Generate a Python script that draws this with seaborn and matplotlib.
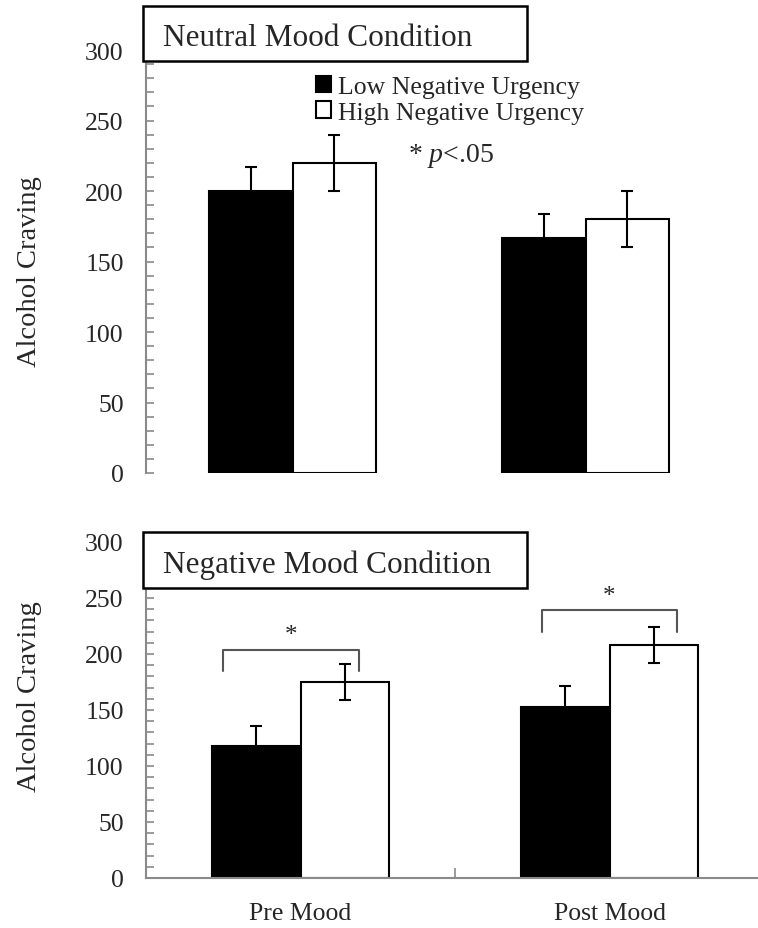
import matplotlib
matplotlib.use("Agg")
import matplotlib.pyplot as plt
from matplotlib.patches import Rectangle
from matplotlib.ticker import MultipleLocator
import seaborn as sns
import pandas as pd

# === 1. Data ===
times = ["Pre Mood", "Post Mood"]
groups = ["Low Negative Urgency", "High Negative Urgency"]

neutral_low = [200, 167]
neutral_high = [220, 180]
neutral_low_se = [17, 17]
neutral_high_se = [20, 20]

negative_low = [118, 153]
negative_high = [175, 208]
negative_low_se = [18, 18]
negative_high_se = [16, 16]

# brackets over the significant comparisons (negative mood only)
bracket_x = [(-0.25, 0.19), (0.78, 1.22)]
bracket_y = [204, 239]
bracket_drop = 19


def make_df(low, high):
    return pd.DataFrame({
        "Time": times * 2,
        "Group": [groups[0]] * 2 + [groups[1]] * 2,
        "Craving": list(low) + list(high),
    })


# === 2. Style ===
sns.set_style("ticks")
plt.rcParams["font.family"] = ["Liberation Serif", "DejaVu Serif"]
plt.rcParams["mathtext.fontset"] = "custom"
plt.rcParams["mathtext.rm"] = "Liberation Serif"
plt.rcParams["mathtext.it"] = "Liberation Serif:italic"

W, H = 758, 929
fig = plt.figure(figsize=(W / 100, H / 100), dpi=100)
ax_top = fig.add_axes([146 / W, (H - 474) / H, 586 / W, 423 / H])
ax_bot = fig.add_axes([146 / W, (H - 879) / H, 612 / W, 336 / H])

palette = {groups[0]: "black", groups[1]: "white"}
gray = "#8a8a8a"


def draw_panel(ax, low, high, low_se, high_se):
    df = make_df(low, high)
    sns.barplot(data=df, x="Time", y="Craving", hue="Group", order=times,
                hue_order=groups, palette=palette, width=0.57, edgecolor="black",
                linewidth=1.5, errorbar=None, ax=ax, saturation=1)
    errs = list(low_se) + list(high_se)
    vals = list(low) + list(high)
    bars = [p for p in ax.patches if p.get_height() > 0][:4]
    for bar, v, e in zip(bars, vals, errs):
        xc = bar.get_x() + bar.get_width() / 2
        ax.errorbar(xc, v, yerr=e, color="black", capsize=4.5, elinewidth=1.5,
                    capthick=1.5, zorder=5)
    ax.set_ylim(0, 300)
    ax.yaxis.set_major_locator(MultipleLocator(50))
    ax.yaxis.set_minor_locator(MultipleLocator(10))
    ax.tick_params(axis="y", which="both", direction="in", length=6, width=1.2,
                   color=gray, labelsize=18.5, pad=16)
    ax.spines["left"].set_color(gray)
    ax.spines["left"].set_linewidth(1.5)
    sns.despine(ax=ax)
    ax.set_xlabel("")
    ax.set_ylabel("Alcohol Craving", fontsize=20.5)
    if ax.get_legend() is not None:
        ax.get_legend().remove()


draw_panel(ax_top, neutral_low, neutral_high, neutral_low_se, neutral_high_se)
draw_panel(ax_bot, negative_low, negative_high, negative_low_se, negative_high_se)

# top panel: no x axis
ax_top.set_xlim(-0.5, 1.5)
ax_top.spines["bottom"].set_visible(False)
ax_top.set_xticks([])
ax_top.yaxis.set_label_coords(-0.178, 0.4775)

# bottom panel: x axis in gray with a middle tick
ax_bot.set_xlim(-0.5, 1.5 - 6 / 309)
ax_bot.spines["bottom"].set_color(gray)
ax_bot.spines["bottom"].set_linewidth(1.5)
ax_bot.set_xticks([0, 1])
ax_bot.set_xticklabels(times)
ax_bot.set_xticks([0.5], minor=True)
ax_bot.tick_params(axis="x", which="major", length=0, labelsize=18.5, pad=17)
ax_bot.tick_params(axis="x", which="minor", direction="in", length=7, width=1.2,
                   color=gray)
ax_bot.yaxis.set_label_coords(-0.170, 0.542)

# significance brackets
for (x0, x1), yb in zip(bracket_x, bracket_y):
    ax_bot.plot([x0, x0, x1, x1], [yb - bracket_drop, yb, yb, yb - bracket_drop],
                color="#555555", lw=1.5, solid_joinstyle="round")
    ax_bot.text((x0 + x1) / 2, yb + 3, "*", ha="center", va="bottom", fontsize=18)

# legend
handles, labels = ax_top.get_legend_handles_labels()
if not handles:
    handles = [Rectangle((0, 0), 1, 1, fc=palette[g], ec="black", lw=1.2) for g in groups]
    labels = groups
leg = fig.legend(handles[:2], labels[:2], loc="upper left",
                 bbox_to_anchor=(316 / W, 1 - 77 / H), frameon=False,
                 fontsize=18.5, handlelength=0.6, handleheight=0.6,
                 handletextpad=0.25, labelspacing=0.12, borderpad=0,
                 borderaxespad=0)

fig.text(408 / W, 1 - 156 / H, r"* $p$<.05", fontsize=20, ha="left", va="center")

# condition title boxes
for y0, y1, base, title in [(7, 62, 46, "Neutral Mood Condition"),
                            (533, 589, 573, "Negative Mood Condition")]:
    fig.add_artist(Rectangle((143 / W, 1 - y1 / H), (527 - 143) / W, (y1 - y0) / H,
                             transform=fig.transFigure, fc="white", ec="black",
                             lw=1.8, zorder=10))
    fig.text(163 / W, 1 - base / H, title, fontsize=22.5, ha="left",
             va="baseline", zorder=11)

fig.savefig("out.png", dpi=100)
